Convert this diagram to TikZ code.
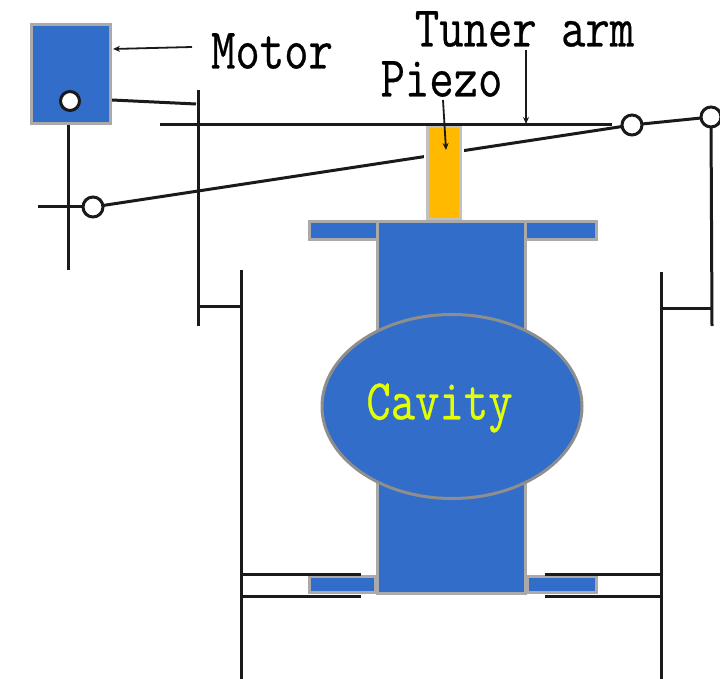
\documentclass[tikz,border=0pt]{standalone}
\usepackage{fontspec}
\newfontfamily\lblfont[FakeBold=0.5]{Latin Modern Mono}
\usetikzlibrary{arrows.meta,shapes.geometric}
\definecolor{partblue}{HTML}{326EC9}
\definecolor{partgrey}{HTML}{8E8E8E}
\definecolor{piezoamber}{HTML}{FFBA00}
\definecolor{inkblack}{HTML}{1A1A1A}
\definecolor{cavitytext}{HTML}{E4FF00}
\tikzset{
  part/.style={draw=partgrey,fill=partblue,line width=3pt,inner sep=0pt,outer sep=0pt,rectangle},
  softpart/.style={part,draw=partgrey!75,line width=3pt},
  pivot/.style={circle,draw=inkblack,fill=white,line width=3pt,minimum size=20pt,inner sep=0pt,outer sep=0pt},
  rod/.style={draw=inkblack,line width=3pt},
  leader/.style={draw=inkblack,line width=1.8pt,-{Stealth[length=7pt,width=6pt]}},
  lbl/.style={font=\lblfont\fontsize{45.5}{45.5}\selectfont,inner sep=0pt,xscale=1.04,yscale=1.27,text=black}
}
\begin{document}
\begin{tikzpicture}[x=1pt,y=-1pt]
\clip (0,0) rectangle (720,679);
\fill[white] (0,0) rectangle (720,679);
% free ends
\coordinate (motorrodtop) at (68,125);
\coordinate (motorrodend) at (68,270);
\coordinate (leverstub) at (38,207);
\coordinate (bracketLtop) at (198,90);
\coordinate (bracketLend) at (198,326);
\coordinate (bracketRend) at (712,326);
\coordinate (armstart) at (160,125);
\coordinate (armend) at (612,125);
\coordinate (motorlinkA) at (112,100);
\coordinate (motorlinkB) at (196,104);
\coordinate (wallLtop) at (241,270);
\coordinate (wallLend) at (241,679);
\coordinate (wallRtop) at (661,272);
\coordinate (wallRend) at (661,679);
\coordinate (bracketLjoin) at (198,306);
\coordinate (wallLjoin) at (241,306);
\coordinate (wallRjoin) at (661,308);
\coordinate (bracketRjoin) at (712,308);
\coordinate (collarLtopA) at (241,574);
\coordinate (collarLtopB) at (361,574);
\coordinate (collarLbotA) at (241,596);
\coordinate (collarLbotB) at (361,596);
\coordinate (collarRtopA) at (545,574);
\coordinate (collarRtopB) at (661,574);
\coordinate (collarRbotA) at (545,596);
\coordinate (collarRbotB) at (661,596);
\coordinate (tunerleadstart) at (526,50);
\coordinate (tunerleadend) at (526,124);
\coordinate (piezoleadstart) at (443,100);
\coordinate (piezoleadend) at (446,150);
\coordinate (motorleadstart) at (192,47);
\coordinate (motorleadend) at (113,49);
% pivots
\node[pivot] (pivotL) at (93,207) {};
\node[pivot] (pivotM) at (632,125) {};
\node[pivot] (pivotR) at (711,117) {};
% rods behind the parts
\draw[rod] (motorrodtop) -- (motorrodend);
\draw[rod] (leverstub) -- (pivotL);
\draw[rod] (bracketLtop) -- (bracketLend);
\draw[rod] (pivotR) -- (bracketRend);
\draw[rod] (pivotL) -- (pivotM);
\draw[rod] (pivotM) -- (pivotR);
\draw[rod] (bracketLjoin) -- (wallLjoin);
\draw[rod] (wallRjoin) -- (bracketRjoin);
\draw[rod] (wallLtop) -- (wallLend);
\draw[rod] (wallRtop) -- (wallRend);
\draw[rod] (motorlinkA) -- (motorlinkB);
% parts
\node[softpart,minimum width=79pt,minimum height=99pt] (motor) at (70.5,74.5) {};
\node[pivot,minimum size=19pt] (motorpin) at (70,101) {};
\node[fill=white,inner sep=0pt,minimum width=40pt,minimum height=94pt] (piezogap) at (443.5,173) {};
\node[softpart,fill=piezoamber,draw=partgrey!55,minimum width=33pt,minimum height=93pt] (piezo) at (443.5,173) {};
\draw[rod] (armstart) -- (armend);
\node[softpart,minimum width=287pt,minimum height=17pt] (flangetop) at (452.5,230.5) {};
\node[softpart,minimum width=66pt,minimum height=16pt] (flangeLow) at (342,584) {};
\node[softpart,minimum width=69pt,minimum height=16pt] (flangeLowR) at (561.5,584) {};
\node[softpart,minimum width=148pt,minimum height=371pt] (body) at (451,407.5) {};
\node[part,ellipse,minimum width=260pt,minimum height=184pt] (cavity) at (452,406.5) {};
% collars
\draw[rod] (collarLtopA) -- (collarLtopB);
\draw[rod] (collarLbotA) -- (collarLbotB);
\draw[rod] (collarRtopA) -- (collarRtopB);
\draw[rod] (collarRbotA) -- (collarRbotB);
% labels
\node[lbl,anchor=center] (motorlabel) at (272,51) {Motor};
\node[lbl,anchor=center] (tunerlabel) at (524.5,29) {Tuner arm};
\node[lbl,anchor=center] (piezolabel) at (441.5,79) {Piezo};
\node[lbl,anchor=center,text=cavitytext] (cavitylabel) at (439.5,408) {Cavity};
% leaders
\draw[leader] (motorleadstart) -- (motorleadend);
\draw[leader] (tunerleadstart) -- (tunerleadend);
\draw[leader] (piezoleadstart) -- (piezoleadend);
\end{tikzpicture}
\end{document}
